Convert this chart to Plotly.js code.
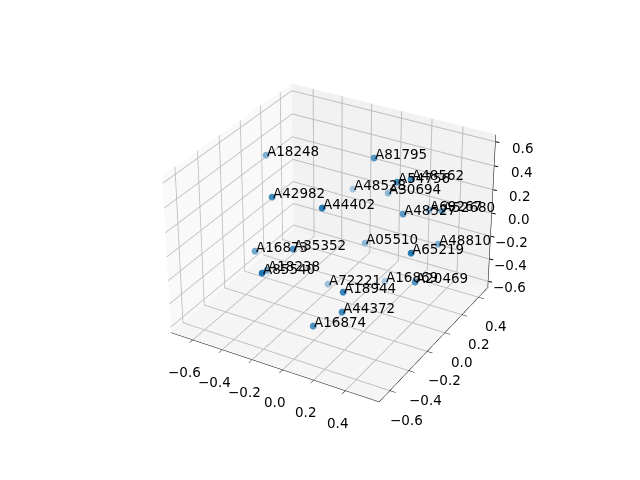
<!DOCTYPE html>
<html><head><meta charset="utf-8"><script src="https://cdn.plot.ly/plotly-3.0.1.min.js"></script>
<style>html,body{margin:0;padding:0;background:#fff;overflow:hidden;width:640px;height:480px}#wrap{position:absolute;left:-627px;top:-486px}</style></head>
<body><div id="wrap"><div id="g"></div></div>
<script>
var W=1920,H=1440;
var rx=[-0.75,0.61],ry=[-0.71,0.52],rz=[-0.65,0.66];
var xTicks=[-0.6,-0.4,-0.2,0,0.2,0.4],yTicks=[-0.6,-0.4,-0.2,0,0.2,0.4],zTicks=[-0.6,-0.4,-0.2,0,0.2,0.4,0.6];
var names=['A18248','A81795','A54756','A48562','A48528','A30694','A44402','A42982','A48527','A69267','A52680','A05510','A48810','A65219','A16869','A20469','A72221','A18944','A44372','A16874','A16873','A35352','A18238','A85540'];
var xs=[-0.580,0.084,0.292,0.336,-0.202,0.048,0.026,-0.314,0.285,0.294,0.455,0.000,0.427,0.509,0.083,0.462,-0.169,0.200,0.208,0.046,-0.452,-0.160,-0.369,-0.146];
var ys=[0.002,0.081,-0.020,0.055,0.325,0.302,-0.353,-0.328,0.065,0.346,0.204,0.134,0.222,-0.230,0.225,-0.093,0.006,-0.417,-0.440,-0.478,-0.306,-0.359,-0.312,-0.674];
var zs=[0.425,0.572,0.513,0.503,0.054,0.122,0.435,0.386,0.191,0.034,0.181,-0.210,-0.122,0.161,-0.581,-0.200,-0.542,-0.142,-0.288,-0.444,-0.132,0.034,-0.259,0.073];
var shades=[0.55,0.76,0.86,0.83,0.37,0.48,0.97,0.83,0.72,0.51,0.69,0.48,0.58,0.97,0.34,0.76,0.41,0.90,0.86,0.79,0.62,0.79,0.62,1];
function fmt(v){return (v<0?'\u2212':'')+Math.abs(v).toFixed(1)}
function mix(a){var b=245;return 'rgb('+Math.round(31*a+b*(1-a))+','+Math.round(119*a+b*(1-a))+','+Math.round(180*a+b*(1-a))+')';}
function ax(r,tv,bg,tk){return {range:r,tickvals:tv,showticklabels:false,showbackground:true,backgroundcolor:bg,gridcolor:'#bdbdbd',gridwidth:2,zeroline:false,showline:tk,linecolor:'#000',linewidth:1,ticks:tk?'outside':'',ticklen:5,tickcolor:'#000',title:{text:''},showspikes:false};}
var e=[0.433,-0.75,0.5],d=7.3;
var anns=[];
function tl(x,y,z,t,xs_,ys_,xa){anns.push({x:x,y:y,z:z,text:t,showarrow:false,xshift:xs_,yshift:ys_,xanchor:xa,yanchor:'middle',font:{family:'DejaVu Sans',size:13.5,color:'#000'}});}
xTicks.forEach(function(v){tl(v,ry[0],rz[0],fmt(v),-8,-32,'center')});
yTicks.forEach(function(v){tl(rx[1],v,rz[0],fmt(v),17,-29,'center')});
zTicks.forEach(function(v){tl(rx[1],ry[1],v,fmt(v),39,-6,'right')});
names.forEach(function(n,i){tl(xs[i],ys[i],zs[i],n,-1,4,'left')});
zTicks.forEach(function(v){anns.push({x:rx[1],y:ry[1],z:v,text:'',showarrow:true,arrowhead:0,arrowwidth:1,arrowcolor:'#000',ax:5,ay:1,standoff:0});});
var tr=[{type:'scatter3d',mode:'lines',x:[rx[1]-0.002,rx[1]-0.002],y:[ry[1]-0.002,ry[1]-0.002],z:[rz[0]+0.002,rz[1]-0.002],line:{color:'#000',width:1},hoverinfo:'skip'},
{type:'scatter3d',mode:'markers',x:xs,y:ys,z:zs,marker:{size:4,color:shades.map(mix),line:{width:0}}}];
Plotly.newPlot('g',tr,
{width:W,height:H,margin:{l:0,r:0,t:0,b:0},showlegend:false,paper_bgcolor:'#fff',
scene:{domain:{x:[0,1],y:[0,1]},aspectmode:'manual',aspectratio:{x:1,y:1,z:0.75},annotations:anns,camera:{eye:{x:e[0]*d,y:e[1]*d,z:e[2]*d},center:{x:0,y:0,z:0},up:{x:0,y:0,z:1}},
xaxis:ax(rx,xTicks,'#f9f9f9',true),yaxis:ax(ry,yTicks,'#f2f2f2',true),zaxis:ax(rz,zTicks,'#f5f5f5',false)}},{displayModeBar:false});
</script></body></html>
